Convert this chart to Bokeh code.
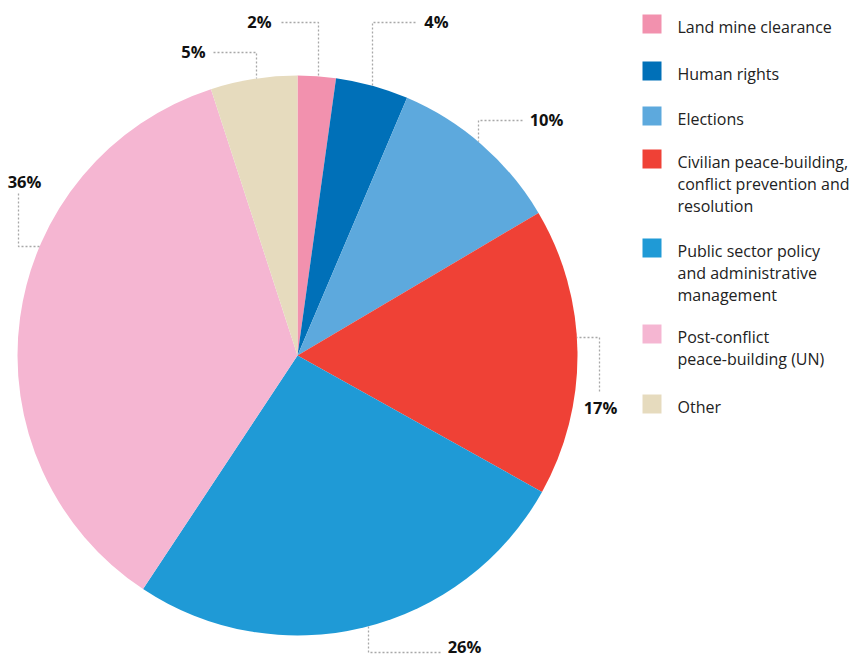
import math
from bokeh.plotting import figure
from bokeh.models import Range1d
from bokeh.core.properties import value
from bokeh.embed import file_html
from bokeh.resources import INLINE

# ---- data ----
categories = [
    "Land mine clearance",
    "Human rights",
    "Elections",
    "Civilian peace-building,\nconflict prevention and\nresolution",
    "Public sector policy\nand administrative\nmanagement",
    "Post-conflict\npeace-building (UN)",
    "Other",
]
shares = [2.2, 4.2, 10.1, 16.6, 26.2, 35.7, 5.0]
pct_labels = ["2%", "4%", "10%", "17%", "26%", "36%", "5%"]
colors = ["#F291AE", "#0070B8", "#5DA9DD", "#EF4136", "#1F9AD6", "#F5B6D2", "#E6DBBE"]

# ---- layout (image pixel coords, y downward) ----
W, H = 854, 657
IMG_H = 657
CX, CY, R = 297, 355, 280


def Y(img_y):
    return IMG_H - img_y


p = figure(width=W, height=H, output_backend="svg", toolbar_location=None,
           x_range=Range1d(0, W), y_range=Range1d(IMG_H - H, IMG_H),
           min_border=0, outline_line_color=None)
p.axis.visible = False
p.grid.visible = False
p.background_fill_color = "white"
p.border_fill_color = "white"

total = float(sum(shares))
cum = 0.0
starts, ends = [], []
for s in shares:
    starts.append(math.pi / 2 - 2 * math.pi * cum / total)
    cum += s
    ends.append(math.pi / 2 - 2 * math.pi * cum / total)

p.wedge(x=[CX] * len(shares), y=[Y(CY)] * len(shares), radius=R, radius_units="screen",
        start_angle=starts, end_angle=ends, direction="clock",
        fill_color=colors, line_color=None)


def edge_y(x, top=True):
    d = math.sqrt(R * R - (x - CX) ** 2)
    return CY - d if top else CY + d


def edge_x(y, right=True):
    d = math.sqrt(R * R - (y - CY) ** 2)
    return CX + d if right else CX - d


# leader layouts: (label center x, label center y, path points)
leaders = [
    (259, 21, [(281, 22), (318, 22), (318, edge_y(318))]),
    (436, 21, [(415, 22), (372, 22), (372, edge_y(372))]),
    (546, 119, [(522, 120), (478, 120), (478, edge_y(478))]),
    (600, 407, [(599, 391), (599, 337), (edge_x(337), 337)]),
    (464, 646, [(440, 652), (368, 652), (368, edge_y(368, top=False))]),
    (24, 181, [(18, 193), (18, 246), (edge_x(246, right=False), 246)]),
    (193, 51, [(213, 52), (256, 52), (256, edge_y(256))]),
]

for (tx, ty, pts), lab in zip(leaders, pct_labels):
    p.line([q[0] for q in pts], [Y(q[1]) for q in pts], line_color="#A8A8A8",
           line_width=1.3, line_dash="2 2")
    p.text(x=[tx], y=[Y(ty)], text=[lab], text_align="center", text_baseline="middle",
           text_font=value("Open Sans"), text_font_style="bold", text_font_size="16.5px",
           text_color="#111111")

# legend
sq_tops = [14, 61, 106, 149, 238, 324, 394]
SQ = 19
LX = 642
TX = 677
LINE = 22
for top, cat, col in zip(sq_tops, categories, colors):
    p.rect(x=[LX + SQ / 2], y=[Y(top + SQ / 2)], width=SQ, height=SQ,
           width_units="screen", height_units="screen", fill_color=col, line_color=None)
    for i, ln in enumerate(cat.split("\n")):
        p.text(x=[TX], y=[Y(top + 12 + i * LINE)], text=[ln], text_align="left",
               text_baseline="alphabetic", text_font=value("Open Sans"),
               text_font_size="16px", text_color="#222222")

open("out.html", "w").write(file_html(p, INLINE))
